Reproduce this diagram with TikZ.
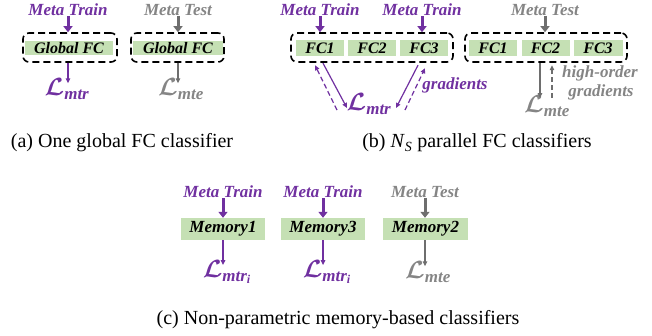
\documentclass[tikz,border=0pt]{standalone}
\usepackage{amsmath}
\usepackage{fontspec}
\setmainfont{Liberation Serif}
\usetikzlibrary{arrows.meta,calc}
\definecolor{mtrpurple}{HTML}{7030A0}
\definecolor{mtegray}{HTML}{858585}
\definecolor{arrgray}{HTML}{6E6E6E}
\definecolor{fcgreen}{HTML}{C5E0B4}
\newcommand{\bsub}[1]{\text{\fontsize{17}{17}\selectfont\bfseries\itshape #1}}
\newcommand{\bsubi}[1]{\text{\fontsize{12}{12}\selectfont\bfseries\itshape #1}}
\newcommand{\Lmtr} {\ensuremath{\boldsymbol{\mathcal{L}}_{\bsub{mtr}}}}
\newcommand{\Lmtri}{\ensuremath{\boldsymbol{\mathcal{L}}_{\bsub{mtr}_{\bsubi{i}}}}}
\newcommand{\Lmte} {\ensuremath{\boldsymbol{\mathcal{L}}_{\bsub{mte}}}}

\begin{document}
\begin{tikzpicture}[x=1pt,y=-1pt,
   lbl/.style   ={font=\fontsize{17}{20}\selectfont\bfseries\itshape,inner sep=0pt},
   fcbox/.style ={fill=fcgreen,inner sep=0pt,minimum height=16pt,
                  font=\fontsize{16}{19}\selectfont\bfseries\itshape},
   grp/.style   ={draw,line width=1.6pt,dash pattern=on 7pt off 4pt,
                  rounded corners=6pt,inner sep=0pt,minimum height=29pt},
   loss/.style  ={font=\fontsize{23}{26}\selectfont,inner sep=0pt},
   capt/.style  ={font=\fontsize{20}{24}\selectfont,inner sep=0pt},
   inarr/.style ={line width=3pt,-{Triangle[length=6pt,width=9pt]}},
   outarr/.style={line width=1.2pt,-{Triangle[length=5pt,width=4.5pt]}},
   backarr/.style={outarr,dash pattern=on 5pt off 3pt}]
   \useasboundingbox (0,0) rectangle (652,335);
 % (a)
   \node[lbl,mtrpurple] (mta)  at ( 68, 10) {Meta Train};
   \node[lbl,mtegray]   (mtea) at (178, 10) {Meta Test};
   \node[fcbox,minimum width=88pt,minimum height=14pt] (gfa) at ( 69, 48) {Global FC};
   \node[fcbox,minimum width=90pt,minimum height=14pt] (gfb) at (178, 48) {Global FC};
   \node[grp,minimum width=94pt]  (ga) at ( 70, 47.5) {};
   \node[grp,minimum width=93pt]  (gb) at (177.5, 47.5) {};
   \node[loss,mtrpurple] (la)  at ( 67, 89) {\Lmtr};
   \node[loss,mtegray]   (lea) at (181, 89) {\Lmte};
   \draw[inarr,mtrpurple] (mta.south)  -- (mta |- ga.north);
   \draw[inarr,arrgray]   (mtea.south) -- (mtea |- gb.north);
   \draw[outarr,mtrpurple] (ga.south -| mta)  -- ($(mta |- la.north)+(0,5)$);
   \draw[outarr,arrgray]   (gb.south -| mtea) -- ($(mtea |- lea.north)+(0,5)$);
   \node[capt] (capa) at (122, 143) {(a) One global FC classifier};
 % (b)
   \node[lbl,mtrpurple] (mtb1) at (320, 10) {Meta Train};
   \node[lbl,mtrpurple] (mtb3) at (422, 10) {Meta Train};
   \node[lbl,mtegray]   (mteb) at (545, 10) {Meta Test};
   \node[fcbox,minimum width=48pt] (fcb1) at (320, 48) {FC1};
   \node[fcbox,minimum width=48pt] (fcb2) at (372, 48) {FC2};
   \node[fcbox,minimum width=48pt] (fcb3) at (424, 48) {FC3};
   \node[fcbox,minimum width=48pt] (fcc1) at (493, 48) {FC1};
   \node[fcbox,minimum width=48pt] (fcc2) at (545.5, 48) {FC2};
   \node[fcbox,minimum width=49pt] (fcc3) at (598, 48) {FC3};
   \node[grp,minimum width=162pt] (gc) at (372, 47.5) {};
   \node[grp,minimum width=162pt] (gd) at (546, 47.5) {};
   \node[loss,mtrpurple] (lmtr) at (369, 104) {\Lmtr};
   \node[loss,mtegray]   (lmte) at (547, 106) {\Lmte};
   \node[lbl,mtrpurple]  (grad) at (455, 85) {gradients};
   \node[lbl,mtegray]    (hord) at (600, 73) {high-order};
   \node[lbl,mtegray]    (hgrd) at (601, 92) {gradients};
   \draw[inarr,mtrpurple] (mtb1.south) -- (mtb1 |- gc.north);
   \draw[inarr,mtrpurple] (mtb3.south) -- (mtb3 |- gc.north);
   \draw[inarr,arrgray]   (mteb.south) -- (mteb |- gd.north);
   \draw[outarr,mtrpurple]  ($(fcb1.south)+(3,7)$)    -- ($(lmtr.center)+(-22,4)$);
   \draw[backarr,mtrpurple] ($(lmtr.center)+(-32,6)$) -- ($(fcb1.south)+(-5,9)$);
   \draw[outarr,mtrpurple]  ($(fcb3.south)+(-6,9)$)   -- ($(lmtr.center)+(27,4)$);
   \draw[backarr,mtrpurple] ($(lmtr.center)+(36,6)$)  -- ($(fcb3.south)+(1,12)$);
   \draw[outarr,arrgray]    ($(fcc2.south)+(-5.5,7)$) -- ($(lmte.center)+(-7,-8)$);
   \draw[backarr,arrgray]   ($(lmte.center)+(5,-8)$)  -- ($(fcc2.south)+(6.5,9)$);
   \node[capt] (capb) at (477, 143) {(b) \textit{N}\textsubscript{\textit{S}} parallel FC classifiers};
 % (c)
   \node[lbl,mtrpurple] (mtm1) at (223, 192) {Meta Train};
   \node[lbl,mtrpurple] (mtm3) at (323, 192) {Meta Train};
   \node[lbl,mtegray]   (mtem) at (425, 192) {Meta Test};
   \node[fcbox,minimum width=84pt,minimum height=22pt,font=\fontsize{17}{20}\selectfont\bfseries\itshape] (mem1) at (223, 229) {Memory1};
   \node[fcbox,minimum width=84pt,minimum height=22pt,font=\fontsize{17}{20}\selectfont\bfseries\itshape] (mem3) at (323, 229) {Memory3};
   \node[fcbox,minimum width=85pt,minimum height=22pt,font=\fontsize{17}{20}\selectfont\bfseries\itshape] (mem2) at (425.5, 229) {Memory2};
   \node[loss,mtrpurple] (lm1) at (227, 272) {\Lmtri};
   \node[loss,mtrpurple] (lm3) at (327, 272) {\Lmtri};
   \node[loss,mtegray]   (lm2) at (428, 272) {\Lmte};
   \draw[inarr,mtrpurple] (mtm1.south) -- (mtm1 |- mem1.north);
   \draw[inarr,mtrpurple] (mtm3.south) -- (mtm3 |- mem3.north);
   \draw[inarr,arrgray]   (mtem.south) -- (mtem |- mem2.north);
   \draw[outarr,mtrpurple] (mem1.south -| mtm1) -- ($(mtm1 |- lm1.north)+(0,5)$);
   \draw[outarr,mtrpurple] (mem3.south -| mtm3) -- ($(mtm3 |- lm3.north)+(0,5)$);
   \draw[outarr,arrgray]   (mem2.south -| mtem) -- ($(mtem |- lm2.north)+(0,5)$);
   \node[capt] (capc) at (338, 320) {(c) Non-parametric memory-based classifiers};
\end{tikzpicture}
\end{document}
